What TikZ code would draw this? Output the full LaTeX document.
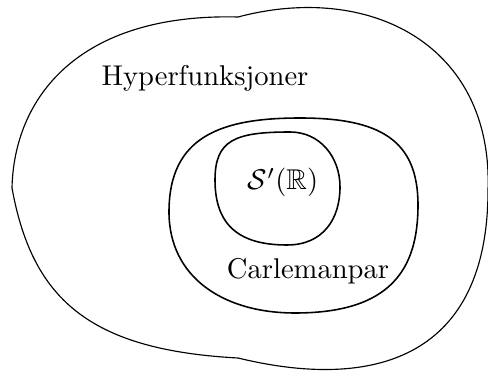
\documentclass[tikz,border=0pt]{standalone}
\usepackage{amsmath,amssymb}
\begin{document}
\begin{tikzpicture}[x=0.012295cm,y=-0.012295cm,
  blob/.style={draw=black,line width=0.4pt},
  blobin/.style={draw=black,line width=0.55pt},
  lbl/.style={anchor=base,inner sep=0pt}]
\useasboundingbox (0,0) rectangle (488,372);
% outer blob (pieces meeting at kinks)
\draw[blob] (12,188) .. controls (14,98) and (78,13) .. (238,17)
  .. controls (370,-18) and (493,45) .. (488,190)
  .. controls (488,355) and (378,392) .. (238,358)
  .. controls (88,350) and (32,298) .. cycle;
% middle
\draw[blobin] (300,118) .. controls (380,118) and (418,140) .. (418,205)
  .. controls (418,270) and (390,313) .. (295,313)
  .. controls (223,313) and (169,277) .. (169,212)
  .. controls (169,137) and (220,118) .. cycle;
% inner
\draw[blobin] (290,132) .. controls (320,132) and (340,157) .. (340,187)
  .. controls (340,219) and (323,245) .. (287,245)
  .. controls (240,245) and (215,226) .. (215,180)
  .. controls (215,140) and (235,132) .. cycle;
\node[lbl] (hyp) at (205,86) {Hyperfunksjoner};
\node[lbl] (carl) at (308,279) {Carlemanpar};
\node[lbl] (schw) at (283,190) {$\mathcal{S}'(\mathbb{R})$};
\end{tikzpicture}
\end{document}
